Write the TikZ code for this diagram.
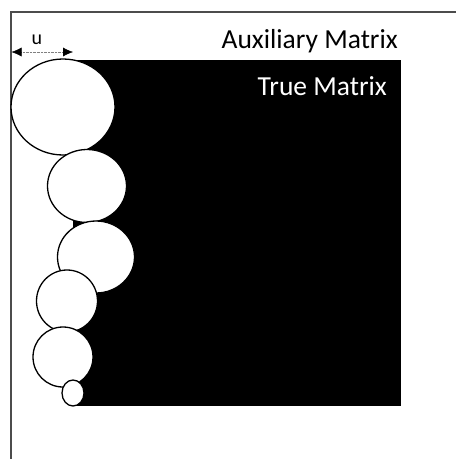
\documentclass[tikz,border=0pt]{standalone}
\usepackage{fontspec}
\setmainfont{Carlito}
\usetikzlibrary{arrows.meta}

\begin{document}
\begin{tikzpicture}[x=1pt,y=-1pt]
\tikzset{ball/.style={draw,fill=white,line width=1.3pt},
  lbl/.style={inner sep=0pt,anchor=base east,font=\fontsize{27.5}{30}\selectfont}}
\useasboundingbox (0,0) rectangle (456,459);
\coordinate (A) at (73,60); \coordinate (B) at (401,406);
\fill (A) rectangle (B);
\draw[line width=1.5pt,black!70] (11,459)--(11,12)--(456,12);
\draw[ball] (63,107) ellipse [x radius=52,y radius=48];
\draw[ball] (87,186) ellipse [x radius=39.5,y radius=36.5];
\draw[ball] (96,257) ellipse [x radius=38.5,y radius=36];
\draw[ball] (67,301) ellipse [x radius=30.5,y radius=31];
\draw[ball] (63,357) ellipse [x radius=30,y radius=30];
\draw[ball] (73,393) ellipse [x radius=11,y radius=13];
\coordinate (L) at (11.5,52); \coordinate (R) at (73,52);
\draw[gray,densely dotted,{Latex[length=10pt,width=9pt,black]}-{Latex[length=10pt,width=9pt,black]}] (L)--(R);
\node[font=\fontsize{20}{22}\selectfont] (u) at (37,40) {u};
\node[lbl] (aux) at (398,48) {Auxiliary Matrix};
\node[lbl,white] (true) at (387,95) {True Matrix};
\end{tikzpicture}
\end{document}
